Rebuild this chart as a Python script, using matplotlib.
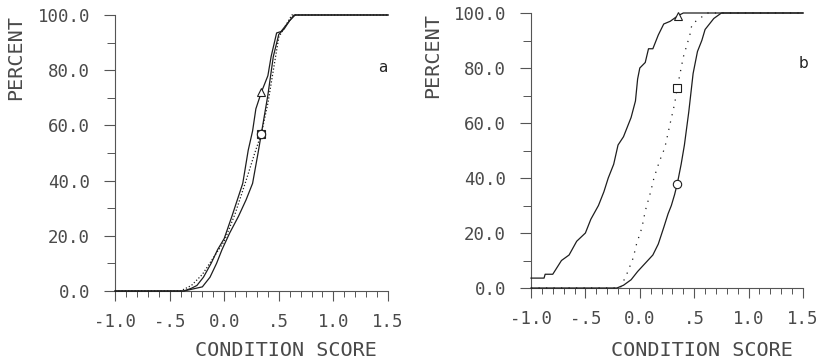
import matplotlib
matplotlib.use("Agg")
import matplotlib.pyplot as plt
from matplotlib.ticker import MultipleLocator, FixedLocator, FixedFormatter

# ---------------- data ----------------
# Panel a
a_left_x = [-1.0, -0.37, -0.30, -0.25, -0.19, -0.12, -0.06, 0.0, 0.07, 0.12, 0.17, 0.22,
            0.26, 0.29, 0.34, 0.40, 0.43, 0.48, 0.52, 0.58, 0.64, 1.5]
a_left_y = [0, 0, 1, 2, 5, 10, 15, 19, 27, 33, 39, 51, 58, 66, 72, 78, 85, 93.5, 94, 97, 100, 100]

a_right_x = [-1.0, -0.37, -0.20, -0.13, -0.07, -0.02, 0.05, 0.13, 0.20, 0.26, 0.31, 0.34,
             0.37, 0.40, 0.45, 0.50, 0.55, 0.60, 0.65, 1.5]
a_right_y = [0, 0, 1.5, 5, 10, 15, 21, 27, 33, 39, 50, 57, 64, 71, 85, 93, 95, 98, 100, 100]

a_dot_x = [-1.0, -0.40, -0.30, -0.20, -0.10, 0.0, 0.10, 0.20, 0.28, 0.34, 0.40, 0.45,
           0.50, 0.56, 0.62, 1.5]
a_dot_y = [0, 0, 2, 6, 12, 18, 28, 40, 50, 57, 68, 80, 92, 96, 100, 100]

a_tri = (0.34, 72)
a_circ = (0.34, 57)
a_sq = (0.34, 57)

# Panel b
b_left_x = [-1.0, -0.88, -0.87, -0.80, -0.72, -0.65, -0.58, -0.50, -0.45, -0.38, -0.33,
            -0.29, -0.24, -0.20, -0.15, -0.12, -0.08, -0.04, -0.02, 0.0, 0.05, 0.08, 0.12,
            0.17, 0.22, 0.28, 0.35, 0.40, 1.5]
b_left_y = [3.6, 3.6, 5, 5, 10, 12, 17, 20, 25, 30, 35, 40, 45, 52, 55, 58, 62, 68, 76, 80,
            82, 87, 87, 92, 96, 97, 99, 100, 100]

b_right_x = [-1.0, -0.21, -0.15, -0.08, -0.02, 0.05, 0.12, 0.17, 0.22, 0.26, 0.29, 0.32,
             0.345, 0.38, 0.41, 0.45, 0.49, 0.53, 0.57, 0.60, 0.64, 0.68, 0.75, 1.5]
b_right_y = [0, 0, 1, 3, 6, 9, 12, 16, 22, 27, 30, 34, 38, 45, 52, 64, 78, 86, 90, 94, 96,
             98, 100, 100]

b_dot_x = [-1.0, -0.18, -0.12, -0.06, -0.03, 0.02, 0.05, 0.10, 0.13, 0.18, 0.23, 0.28,
           0.32, 0.345, 0.37, 0.40, 0.43, 0.46, 0.48, 0.55, 0.62, 1.5]
b_dot_y = [0, 0, 5, 11, 16, 22, 28, 35, 40, 46, 51, 60, 67, 73, 78, 84, 88, 92, 96, 98,
           100, 100]

b_tri = (0.35, 98.9)
b_circ = (0.345, 38)
b_sq = (0.345, 72.6)

x_ticks = [-1.0, -0.5, 0.0, 0.5, 1.0, 1.5]
x_tick_labels = ["-1.0", "-.5", "0.0", ".5", "1.0", "1.5"]
y_ticks = [0, 20, 40, 60, 80, 100]
y_tick_labels = ["0.0", "20.0", "40.0", "60.0", "80.0", "100.0"]
panel_letters = ["a", "b"]
x_label = "CONDITION SCORE"
y_label = "PERCENT"

# ---------------- drawing ----------------
W, H = 826, 362
fig = plt.figure(figsize=(W / 100, H / 100), dpi=100)
MONO = "DejaVu Sans Mono"
TXT = "#4a4a4a"
LINE = "#1e1e1e"


def px_axes(l, r, t, b):
    return fig.add_axes([l / W, 1 - b / H, (r - l) / W, (b - t) / H])


ax_a = px_axes(115, 388, 15, 291)
ax_b = px_axes(531, 803, 13, 288)

panels = [
    (ax_a, (a_left_x, a_left_y), (a_right_x, a_right_y), (a_dot_x, a_dot_y),
     a_tri, a_circ, a_sq, (0, (1, 1.6))),
    (ax_b, (b_left_x, b_left_y), (b_right_x, b_right_y), (b_dot_x, b_dot_y),
     b_tri, b_circ, b_sq, (0, (1, 5))),
]

for i, (ax, left, right, dot, tri, circ, sq, dstyle) in enumerate(panels):
    ax.plot(left[0], left[1], color=LINE, lw=0.9, clip_on=False, zorder=3)
    ax.plot(right[0], right[1], color=LINE, lw=0.9, clip_on=False, zorder=3)
    ax.plot(dot[0], dot[1], color=LINE, lw=0.9, linestyle=dstyle, clip_on=False, zorder=3)
    mk = dict(markerfacecolor="white", markeredgecolor=LINE, markeredgewidth=0.8,
              markersize=6, linestyle="none", clip_on=False, zorder=4)
    ax.plot([tri[0]], [tri[1]], marker="^", **mk)
    ax.plot([sq[0]], [sq[1]], marker="s", **mk)
    ax.plot([circ[0]], [circ[1]], marker="o", **mk)

    ax.set_xlim(-1.0, 1.5)
    ax.set_ylim(0, 100)
    for s in ("top", "right"):
        ax.spines[s].set_visible(False)
    for s in ("left", "bottom"):
        ax.spines[s].set_color("#555555")
        ax.spines[s].set_linewidth(0.8)

    ax.xaxis.set_major_locator(FixedLocator(x_ticks))
    ax.xaxis.set_major_formatter(FixedFormatter(x_tick_labels))
    ax.xaxis.set_minor_locator(MultipleLocator(0.1))
    ax.yaxis.set_major_locator(FixedLocator(y_ticks))
    ax.yaxis.set_major_formatter(FixedFormatter(y_tick_labels))
    ax.yaxis.set_minor_locator(MultipleLocator(10))

    ax.tick_params(axis="x", which="major", direction="out", length=7, width=0.8,
                   color="#555555", pad=9, labelsize=12.5, labelcolor=TXT)
    ax.tick_params(axis="x", which="minor", direction="out", length=4.5, width=0.7,
                   color="#555555")
    ax.tick_params(axis="y", which="major", direction="out", length=8, width=0.8,
                   color="#555555", pad=10, labelsize=12.5, labelcolor=TXT)
    ax.tick_params(axis="y", which="minor", direction="out", length=6, width=0.7,
                   color="#555555")
    for lab in ax.get_xticklabels() + ax.get_yticklabels():
        lab.set_family(MONO)
    ax.set_facecolor("none")

# panel letters
fig.text(383 / W, 1 - 67 / H, panel_letters[0], ha="center", va="center",
         fontsize=11, color="#222222", family="DejaVu Sans")
fig.text(803 / W, 1 - 63 / H, panel_letters[1], ha="center", va="center",
         fontsize=11, color="#222222", family="DejaVu Sans")

# axis labels
for cx in (286, 702):
    fig.text(cx / W, 1 - 350 / H, x_label, ha="center", va="center",
             fontsize=14.5, color=TXT, family=MONO)
for cx, top in ((16, 15), (433, 13)):
    fig.text(cx / W, 1 - top / H, y_label, ha="center", va="top", rotation=90,
             fontsize=14.5, color=TXT, family=MONO)

fig.savefig("out.png", dpi=100)
